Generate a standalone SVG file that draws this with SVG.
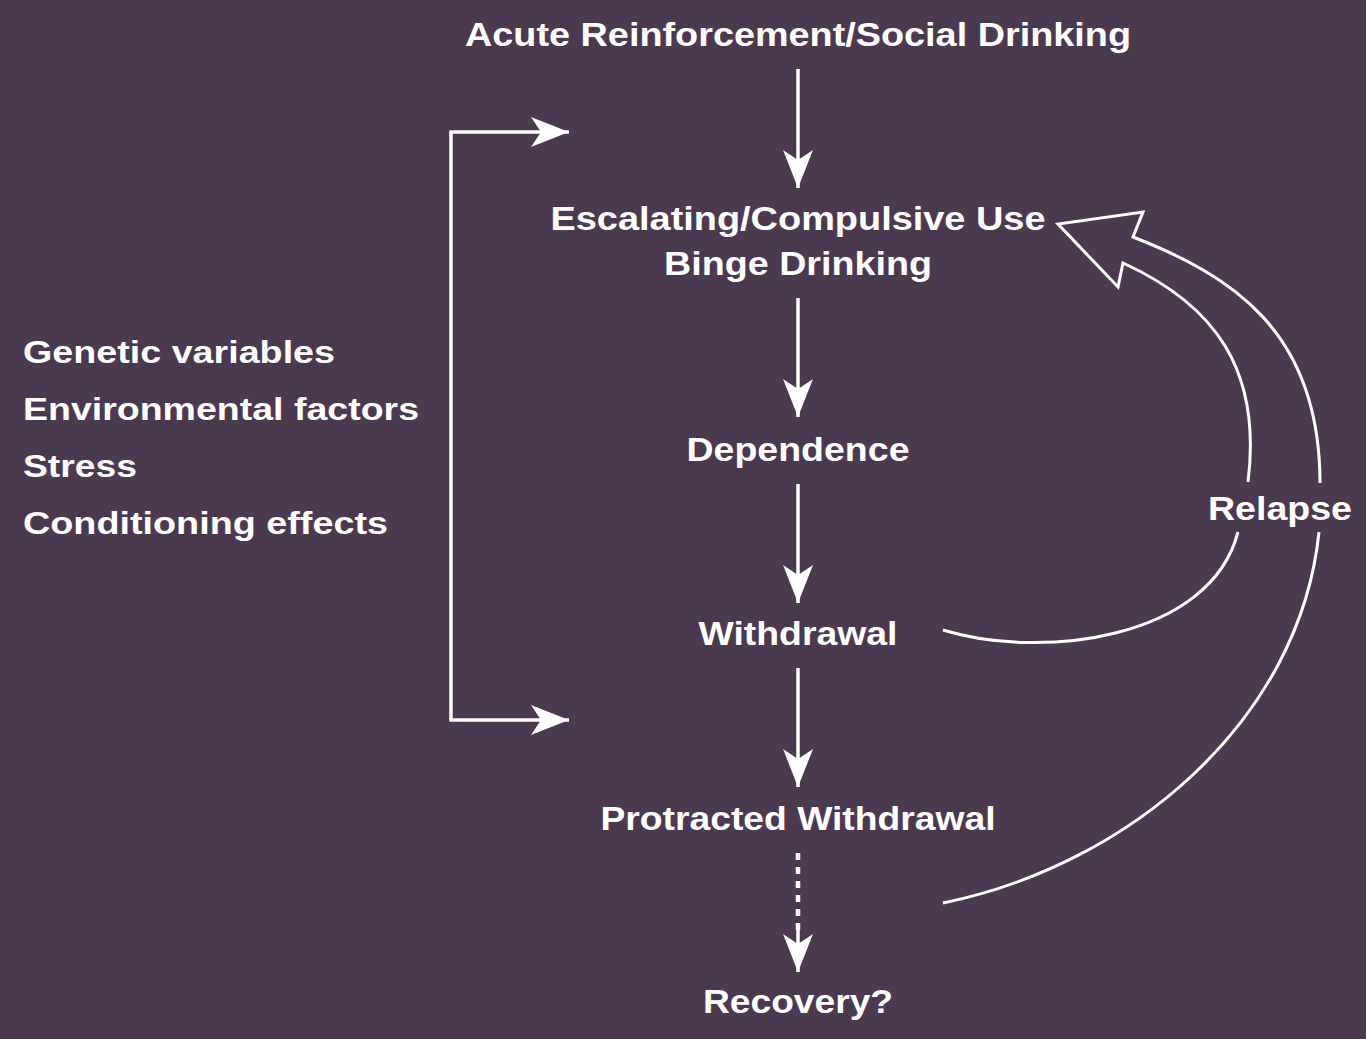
<svg xmlns="http://www.w3.org/2000/svg" width="1366" height="1039" viewBox="0 0 1366 1039">
  <defs>
    <style>
      text { font-family: "Liberation Sans", Arial, sans-serif; font-weight: bold; fill: #ffffff; }
      .c { font-size: 34px; text-anchor: middle; }
      .l { font-size: 32px; }
      .ln { fill: none; stroke: #ffffff; stroke-width: 3.5; }
      .dash { fill: none; stroke: #ffffff; stroke-width: 4.5; stroke-dasharray: 7 7; }
      .outline { fill: none; stroke: #ffffff; stroke-width: 3; stroke-linejoin: miter; }
    </style>
    <marker id="ah" markerUnits="userSpaceOnUse" markerWidth="40" markerHeight="32" refX="38" refY="15" orient="auto" viewBox="0 0 40 32">
      <path d="M0,0 L38,15 L0,30 L10,15 z" fill="#ffffff"/>
    </marker>
  </defs>
  <rect width="1366" height="1039" fill="#4b3a4f"/>

  <g id="connectors">
    <path class="ln" d="M798,69 V188" marker-end="url(#ah)"/>
    <path class="ln" d="M798,298 V417" marker-end="url(#ah)"/>
    <path class="ln" d="M798,484 V603" marker-end="url(#ah)"/>
    <path class="ln" d="M798,668 V787" marker-end="url(#ah)"/>
    <path class="dash" d="M798,853 V935"/>
    <path class="ln" d="M798,930 V972" marker-end="url(#ah)"/>
    <g id="bracket">
      <path class="ln" d="M451,132 V720"/>
      <path class="ln" d="M449.25,132 H569" marker-end="url(#ah)"/>
      <path class="ln" d="M449.25,720 H569" marker-end="url(#ah)"/>
    </g>
    <g id="relapse-arrow">
      <path class="outline" d="M943,903 C1130,865 1300,720 1319,532"/>
      <path class="outline" d="M1320,483 C1320,330 1230,275 1133,237 L1143,212 L1058,224 L1118,287 L1123,263 C1215,305 1262,370 1248,482"/>
      <path class="outline" d="M943,630 C1040,660 1210,640 1238,532"/>
    </g>
  </g>

  <g id="n-acute"><text class="c" x="798" y="46" textLength="666" lengthAdjust="spacingAndGlyphs">Acute Reinforcement/Social Drinking</text></g>
  <g id="n-escalating">
    <text class="c" x="798" y="230" textLength="495" lengthAdjust="spacingAndGlyphs">Escalating/Compulsive Use</text>
    <text class="c" x="798" y="275" textLength="268" lengthAdjust="spacingAndGlyphs">Binge Drinking</text>
  </g>
  <g id="n-dependence"><text class="c" x="798" y="461" textLength="223" lengthAdjust="spacingAndGlyphs">Dependence</text></g>
  <g id="n-withdrawal"><text class="c" x="798" y="645" textLength="199" lengthAdjust="spacingAndGlyphs">Withdrawal</text></g>
  <g id="n-protracted"><text class="c" x="798" y="830" textLength="395" lengthAdjust="spacingAndGlyphs">Protracted Withdrawal</text></g>
  <g id="n-recovery"><text class="c" x="798" y="1013" textLength="190" lengthAdjust="spacingAndGlyphs">Recovery?</text></g>
  <g id="n-relapse"><text class="c" x="1280" y="520" textLength="144" lengthAdjust="spacingAndGlyphs">Relapse</text></g>
  <g id="n-factors">
    <text class="l" x="23" y="363" textLength="312" lengthAdjust="spacingAndGlyphs">Genetic variables</text>
    <text class="l" x="23" y="420" textLength="396" lengthAdjust="spacingAndGlyphs">Environmental factors</text>
    <text class="l" x="23" y="477" textLength="114" lengthAdjust="spacingAndGlyphs">Stress</text>
    <text class="l" x="23" y="534" textLength="365" lengthAdjust="spacingAndGlyphs">Conditioning effects</text>
  </g>
</svg>
